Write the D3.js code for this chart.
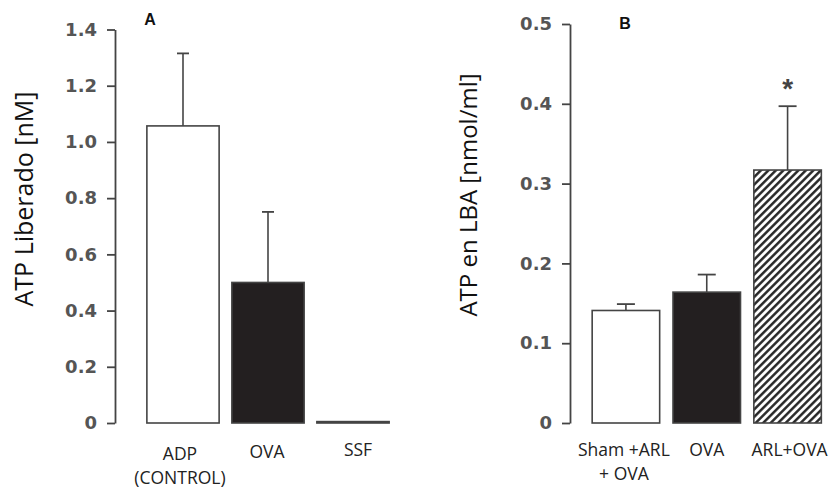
<!DOCTYPE html>
<html>
<head>
<meta charset="utf-8">
<script src="https://cdn.jsdelivr.net/npm/d3@7"></script>
<style>
  html, body { margin: 0; padding: 0; background: #fff; }
  svg { display: block; }
</style>
</head>
<body>
<svg id="chart" width="830" height="490"></svg>
<script>
// Panel A: released ATP per stimulus
const catsA = ["ADP", "OVA", "SSF"];
const labelsA = [["ADP", "(CONTROL)"], ["OVA"], ["SSF"]];
const valuesA = [1.057, 0.50, 0.005];
const errorsA = [1.315, 0.751, null];
const fillsA = ["white", "black", "black"];
const ticksA = [0, 0.2, 0.4, 0.6, 0.8, 1.0, 1.2, 1.4];

// Panel B: ATP in BAL fluid per group
const catsB = ["Sham", "OVA", "ARL"];
const labelsB = [["Sham +ARL", "+ OVA"], ["OVA"], ["ARL+OVA"]];
const valuesB = [0.141, 0.164, 0.317];
const errorsB = [0.149, 0.186, 0.397];
const fillsB = ["white", "black", "hatch"];
const ticksB = [0, 0.1, 0.2, 0.3, 0.4, 0.5];
const signifB = [false, false, true];

const svg = d3.select("#chart");
const axisColor = "#444";
const labelFont = "'Open Sans', Lato, sans-serif";

// diagonal hatch fill
const defs = svg.append("defs");
const pat = defs.append("pattern")
  .attr("id", "hatch")
  .attr("patternUnits", "userSpaceOnUse")
  .attr("width", 5.3).attr("height", 5.3)
  .attr("patternTransform", "rotate(45)");
pat.append("rect").attr("width", 5.3).attr("height", 5.3).attr("fill", "white");
pat.append("line")
  .attr("x1", 1.3).attr("y1", 0).attr("x2", 1.3).attr("y2", 5.3)
  .attr("stroke", "#222").attr("stroke-width", 2.4);

function fillOf(f) {
  if (f === "white") return "#fff";
  if (f === "black") return "#231f20";
  return "url(#hatch)";
}

function panel(opt) {
  const g = svg.append("g");
  const y = d3.scaleLinear().domain(opt.yDomain).range([423, opt.yTop]);
  const x = d3.scaleBand().domain(opt.cats).range(opt.xRange)
    .paddingInner(opt.pad).paddingOuter(opt.pad / 2);
  const cx = c => x(c) + x.bandwidth() / 2;

  // y axis
  const ax = g.append("g")
    .attr("transform", `translate(${opt.axisX},0)`)
    .call(d3.axisLeft(y).tickValues(opt.ticks).tickSize(8).tickPadding(10)
      .tickSizeOuter(0)
      .tickFormat(d => d === 0 ? "0" : d3.format(".1f")(d)));
  ax.select(".domain").attr("stroke", axisColor).attr("stroke-width", 1.8);
  ax.selectAll(".tick line").attr("stroke", axisColor).attr("stroke-width", 1.8);
  ax.selectAll(".tick text")
    .attr("fill", "#555")
    .style("font-family", "'DejaVu Sans', sans-serif")
    .style("font-size", "18px")
    .style("font-weight", "bold");

  // error bars (upper whisker only)
  opt.cats.forEach((c, i) => {
    if (opt.errors[i] == null) return;
    g.append("line")
      .attr("x1", cx(c)).attr("x2", cx(c))
      .attr("y1", y(opt.values[i])).attr("y2", y(opt.errors[i]))
      .attr("stroke", axisColor).attr("stroke-width", 1.6);
    g.append("line")
      .attr("x1", cx(c) - opt.cap).attr("x2", cx(c) + opt.cap)
      .attr("y1", y(opt.errors[i])).attr("y2", y(opt.errors[i]))
      .attr("stroke", axisColor).attr("stroke-width", 1.8);
  });

  // bars
  g.selectAll("rect.bar").data(opt.cats).join("rect")
    .attr("class", "bar")
    .attr("x", c => x(c))
    .attr("width", x.bandwidth())
    .attr("y", (c, i) => y(opt.values[i]))
    .attr("height", (c, i) => y(0) - y(opt.values[i]))
    .attr("fill", (c, i) => fillOf(opt.fills[i]))
    .attr("stroke", axisColor)
    .attr("stroke-width", 1.6);

  // significance marks
  if (opt.signif) {
    opt.cats.forEach((c, i) => {
      if (!opt.signif[i]) return;
      g.append("text")
        .attr("x", cx(c))
        .attr("y", y(opt.errors[i]) - 8)
        .attr("text-anchor", "middle")
        .attr("fill", "#444")
        .style("font-family", "'Liberation Sans', Arial, sans-serif")
        .style("font-size", "28px")
        .style("font-weight", "bold")
        .text("*");
    });
  }

  // category labels
  opt.cats.forEach((c, i) => {
    const lx = cx(c) + opt.labelDx[i];
    const t = g.append("text")
      .attr("y", opt.labelY[i])
      .attr("text-anchor", "middle")
      .attr("fill", "#222")
      .style("font-family", labelFont)
      .style("font-size", "17.5px");
    opt.labels[i].forEach((line, k) => {
      t.append("tspan")
        .attr("x", lx)
        .attr("dy", k === 0 ? 0 : opt.lineGap)
        .text(line);
    });
  });

  // y title
  g.append("text")
    .attr("transform", `translate(${opt.titleX},${opt.titleY}) rotate(-90)`)
    .attr("text-anchor", "middle")
    .attr("fill", "#111")
    .style("font-family", labelFont)
    .style("font-size", opt.titleSize + "px")
    .text(opt.title);

  // panel letter
  g.append("text")
    .attr("x", opt.letterX).attr("y", opt.letterY)
    .attr("text-anchor", "middle")
    .attr("fill", "#111")
    .style("font-family", "'Liberation Sans', Arial, sans-serif")
    .style("font-size", "16px")
    .style("font-weight", "bold")
    .text(opt.letter);
}

panel({
  cats: catsA, labels: labelsA, values: valuesA, errors: errorsA, fills: fillsA,
  ticks: ticksA, yDomain: [0, 1.4], yTop: 29.5,
  axisX: 115, xRange: [140.5, 395.5], pad: 0.15, cap: 6,
  labelDx: [-3, -1, 5], labelY: [460, 458, 456], lineGap: 24,
  title: "ATP Liberado [nM]", titleX: 33, titleY: 199, titleSize: 25,
  letter: "A", letterX: 150, letterY: 25
});

panel({
  cats: catsB, labels: labelsB, values: valuesB, errors: errorsB, fills: fillsB,
  signif: signifB,
  ticks: ticksB, yDomain: [0, 0.5], yTop: 24,
  axisX: 570, xRange: [585.5, 828], pad: 0.165, cap: 9,
  labelDx: [-2, 0, 2], labelY: [456, 456, 456], lineGap: 24,
  title: "ATP en LBA [nmol/ml]", titleX: 477, titleY: 195, titleSize: 24,
  letter: "B", letterX: 625, letterY: 29
});
</script>
</body>
</html>
